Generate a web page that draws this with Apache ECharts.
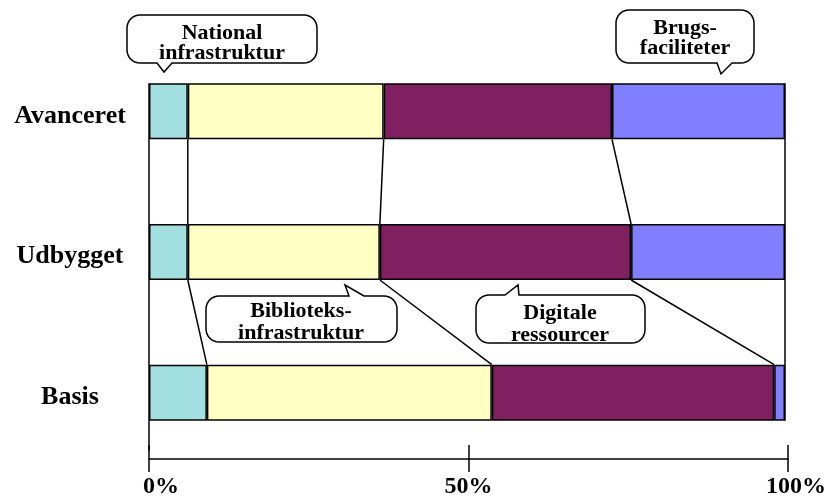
<!doctype html>
<html lang="da">
<head>
    <meta charset="UTF-8">
    <title>Infrastruktur niveauer</title>
    <script type="text/javascript" src="https://cdn.jsdelivr.net/npm/echarts@6/dist/echarts.min.js"></script>
    <style>
        html, body { margin: 0; padding: 0; background: #fff; }
        #chart { width: 831px; height: 500px; }
    </style>
</head>
<body>
<div id="chart"></div>
<script>
    // kategorier (nederst først)
    var categories = ['Basis', 'Udbygget', 'Avanceret'];
    var seriesNames = ['National infrastruktur', 'Biblioteks-infrastruktur', 'Digitale ressourcer', 'Brugs-faciliteter'];
    // andele i procent pr. kategori
    var national = [9.1, 6.1, 6.1];
    var bibliotek = [44.8, 30.2, 30.8];
    var digitale = [44.4, 39.5, 35.9];
    var brugs = [1.7, 24.2, 27.2];
    var axisTicks = [0, 50, 100];

    var colors = ['#a2dfe0', '#ffffc4', '#802060', '#8080ff'];
    var serif = "'Liberation Serif', 'Times New Roman', serif";
    var barW = 56;

    var chart = echarts.init(document.getElementById('chart'));

    //kumulerede grænser pr. kategori
    function cumulated(i) {
        var a = national[i], b = a + bibliotek[i], c = b + digitale[i];
        return [a, b, c];
    }

    //afrundet taleboble som polygon
    function bubble(x, y, w, h, r, tail) {
        var pts = [];
        function arc(cx, cy, a0, a1) {
            for (var s = 0; s <= 8; s++) {
                var a = (a0 + (a1 - a0) * s / 8) * Math.PI / 180;
                pts.push([cx + r * Math.cos(a), cy + r * Math.sin(a)]);
            }
        }
        arc(x + r, y + r, 180, 270);
        if (tail.side === 'top') {
            pts.push([tail.base[0], y], tail.tip, [tail.base[1], y]);
        }
        arc(x + w - r, y + r, 270, 360);
        arc(x + w - r, y + h - r, 0, 90);
        if (tail.side === 'bottom') {
            pts.push([tail.base[1], y + h], tail.tip, [tail.base[0], y + h]);
        }
        arc(x + r, y + h - r, 90, 180);
        return pts;
    }

    var notes = [
        {box: [127, 15, 190, 48], tail: {side: 'bottom', base: [157, 172], tip: [164, 72]},
            lines: ['National', 'infrastruktur'], cx: 222, ys: [33, 53]},
        {box: [616, 10, 138, 53], tail: {side: 'bottom', base: [717, 732], tip: [721, 74]},
            lines: ['Brugs-', 'faciliteter'], cx: 685, ys: [28, 48]},
        {box: [206, 296, 191, 46], tail: {side: 'top', base: [349, 364], tip: [345, 285]},
            lines: ['Biblioteks-', 'infrastruktur'], cx: 301, ys: [311, 333]},
        {box: [476, 295, 169, 48], tail: {side: 'top', base: [505, 519], tip: [518, 285]},
            lines: ['Digitale', 'ressourcer'], cx: 560, ys: [313, 335]}
    ];

    var graphics = [];
    notes.forEach(function (n) {
        graphics.push({
            type: 'polygon',
            shape: {points: bubble(n.box[0], n.box[1], n.box[2], n.box[3], 13, n.tail)},
            style: {fill: '#fff', stroke: '#000', lineWidth: 1.5},
            z: 10
        });
        n.lines.forEach(function (t, k) {
            graphics.push({
                type: 'text',
                x: n.cx,
                y: n.ys[k],
                style: {
                    text: t, fill: '#000', font: 'bold 22px ' + serif,
                    align: 'center', verticalAlign: 'middle'
                },
                z: 11
            });
        });
    });

    var seriesData = [national, bibliotek, digitale, brugs];
    var series = seriesData.map(function (d, i) {
        return {
            name: seriesNames[i],
            type: 'bar',
            stack: 'total',
            xAxisIndex: 0,
            yAxisIndex: 0,
            barWidth: barW,
            itemStyle: {color: colors[i], borderColor: '#000', borderWidth: 1.5},
            data: d
        };
    });

    //forbindelseslinjer og ramme
    series.push({
        type: 'custom',
        xAxisIndex: 0,
        yAxisIndex: 0,
        data: [[0, 0]],
        z: 5,
        renderItem: function (params, api) {
            var children = [];
            var half = barW / 2;
            var style = {stroke: '#000', lineWidth: 1.5};
            for (var i = 0; i < categories.length - 1; i++) {
                var up = cumulated(i + 1), low = cumulated(i);
                var yUp = api.coord([0, i + 1])[1] + half;
                var yLow = api.coord([0, i])[1] - half;
                for (var k = 0; k < 3; k++) {
                    children.push({
                        type: 'line',
                        shape: {x1: api.coord([up[k], 0])[0], y1: yUp, x2: api.coord([low[k], 0])[0], y2: yLow},
                        style: style
                    });
                }
            }
            var top = api.coord([0, categories.length - 1])[1] - half;
            var bottom = api.coord([0, 0])[1] + half;
            var x0 = api.coord([0, 0])[0], x1 = api.coord([100, 0])[0];
            // venstre linje fortsætter ned til aksen
            children.push({type: 'line', shape: {x1: x0, y1: top, x2: x0, y2: bottom + 30}, style: style});
            children.push({type: 'line', shape: {x1: x1, y1: top, x2: x1, y2: bottom}, style: style});
            return {type: 'group', children: children};
        }
    });

    var labelStyle = {fontFamily: serif, fontWeight: 'bold', fontSize: 24, color: '#000'};
    var catStyle = {fontFamily: serif, fontWeight: 'bold', fontSize: 26, color: '#000', padding: [9, 0, 0, 0]};

    var option = {
        animation: false,
        backgroundColor: '#fff',
        grid: [
            {left: 149, width: 636, top: 41, height: 422, outerBoundsMode: 'none', containLabel: false},
            {left: 149, width: 639, top: 445, height: 27, outerBoundsMode: 'none', containLabel: false}
        ],
        xAxis: [
            {gridIndex: 0, type: 'value', min: 0, max: 100, show: false},
            {
                gridIndex: 1, type: 'value', min: axisTicks[0], max: axisTicks[axisTicks.length - 1],
                interval: axisTicks[1] - axisTicks[0],
                axisLine: {show: true, onZero: true, lineStyle: {color: '#000', width: 1.5}},
                axisTick: {show: false},
                splitLine: {show: true, lineStyle: {color: '#000', width: 1.5}},
                axisLabel: {
                    margin: 3,
                    fontFamily: serif, fontWeight: 'bold', fontSize: 24, color: '#000',
                    formatter: function (v) { return '{a' + v + '|' + v + '%}'; },
                    rich: {
                        a0: Object.assign({padding: [0, 0, 0, 24]}, labelStyle),
                        a50: Object.assign({}, labelStyle),
                        a100: Object.assign({padding: [0, 0, 0, 16]}, labelStyle)
                    }
                }
            }
        ],
        yAxis: [
            {
                gridIndex: 0, type: 'category', data: categories,
                axisLine: {show: false}, axisTick: {show: false}, splitLine: {show: false},
                axisLabel: {
                    margin: 79, align: 'center', verticalAlign: 'middle',
                    color: '#000', fontFamily: serif, fontWeight: 'bold', fontSize: 26,
                    formatter: function (v) { return '{c|' + v + '}'; },
                    rich: {c: catStyle}
                }
            },
            {gridIndex: 1, type: 'value', min: -1, max: 1, show: false}
        ],
        graphic: graphics,
        series: series
    };
    chart.setOption(option);
</script>
</body>
</html>
